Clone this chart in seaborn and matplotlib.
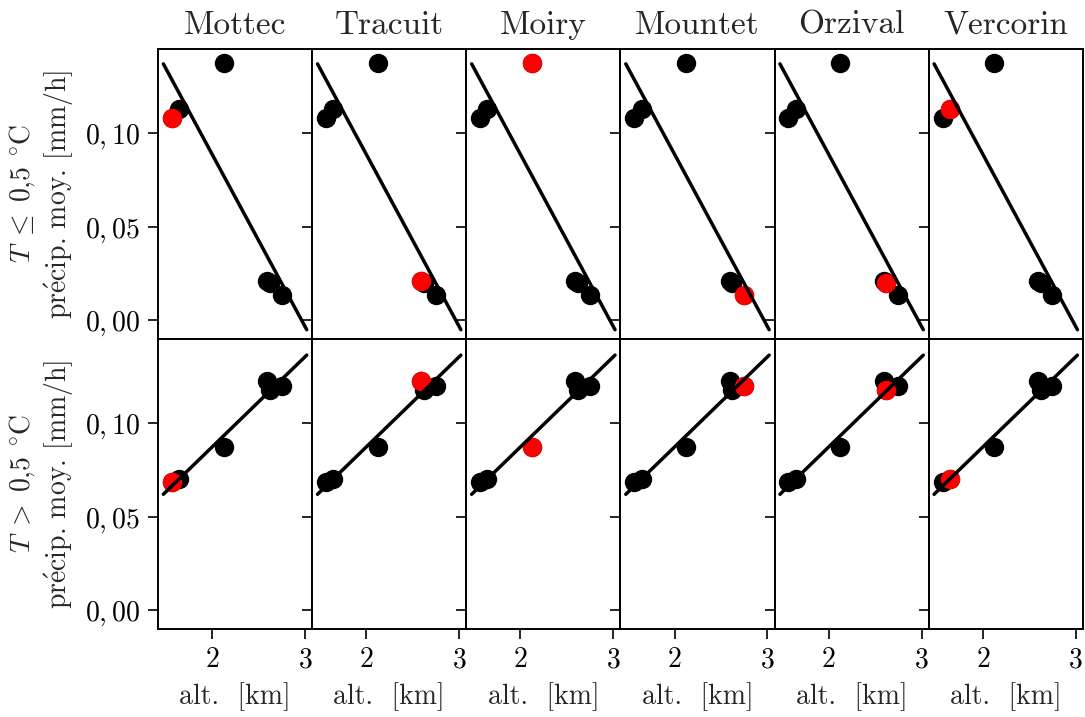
# Précipitations moyennes vs altitude, une station mise en évidence par colonne
import numpy as np
import pandas as pd
import matplotlib
matplotlib.use("Agg")
import matplotlib.pyplot as plt
import seaborn as sns

# données
stations = ["Mottec", "Tracuit", "Moiry", "Mountet", "Orzival", "Vercorin"]
altitude_km = [1.567, 2.593, 2.125, 2.747, 2.621, 1.645]
precip_cold = [0.1080, 0.0210, 0.1378, 0.0138, 0.0200, 0.1130]
precip_warm = [0.0688, 0.1227, 0.0874, 0.1200, 0.1180, 0.0702]

row_labels = [r"$T\;\leq\;0{,}5$ $^{\circ}$C" + "\n" + r"pr$\mathrm{\acute{e}}$cip. moy. [mm/h]",
              r"$T\;>\;0{,}5$ $^{\circ}$C" + "\n" + r"pr$\mathrm{\acute{e}}$cip. moy. [mm/h]"]
xtick_vals = [2, 3]
xtick_labels = [r"$2$", r"$3$"]
ytick_vals = [0.00, 0.05, 0.10]
ytick_labels = [r"$0,00$", r"$0,05$", r"$0,10$"]

df = pd.DataFrame({"station": stations, "alt": altitude_km,
                   "cold": precip_cold, "warm": precip_warm})

sns.set_theme(style="ticks")
plt.rcParams["font.family"] = ["cmr10", "DejaVu Serif"]
plt.rcParams["mathtext.fontset"] = "cm"
plt.rcParams["axes.formatter.use_mathtext"] = True
plt.rcParams["axes.edgecolor"] = "black"
plt.rcParams["axes.linewidth"] = 1.4
plt.rcParams["xtick.color"] = "black"
plt.rcParams["ytick.color"] = "black"

fig, axes = plt.subplots(2, 6, sharex=True, sharey=True, figsize=(10.85, 7.17), dpi=100)
fig.subplots_adjust(left=0.1456, right=0.998, top=0.9317, bottom=0.1227, wspace=0, hspace=0)

for r, col in enumerate(["cold", "warm"]):
    for c, name in enumerate(stations):
        ax = axes[r, c]
        sns.scatterplot(data=df, x="alt", y=col, color="black", s=195,
                        linewidth=0, ax=ax, legend=False)
        sns.scatterplot(data=df[df["station"] == name], x="alt", y=col, color="red",
                        s=195, linewidth=0, ax=ax, legend=False)
        ax.set_xlim(1.476, 3.018)
        sns.regplot(data=df, x="alt", y=col, scatter=False, ci=None, truncate=False,
                    color="black", line_kws={"linewidth": 2.5}, ax=ax)
        ax.set_xlabel("")
        ax.set_ylabel("")
        ax.tick_params(direction="out", length=7, width=1.2, labelsize=20, pad=6)
        if r == 0:
            ax.set_title(name, fontsize=24, pad=11)
        else:
            ax.set_xlabel("alt.  [km]", fontsize=20, labelpad=6)
        if c == 0:
            ax.set_ylabel(row_labels[r], fontsize=20, labelpad=6)

axes[0, 0].set_xticks(xtick_vals)
axes[0, 0].set_xticklabels(xtick_labels)
axes[0, 0].set_yticks(ytick_vals)
axes[0, 0].set_yticklabels(ytick_labels)
axes[0, 0].set_xlim(1.418, 3.076)
axes[0, 0].set_ylim(-0.0100, 0.1452)

plt.savefig("out.png", dpi=100)
